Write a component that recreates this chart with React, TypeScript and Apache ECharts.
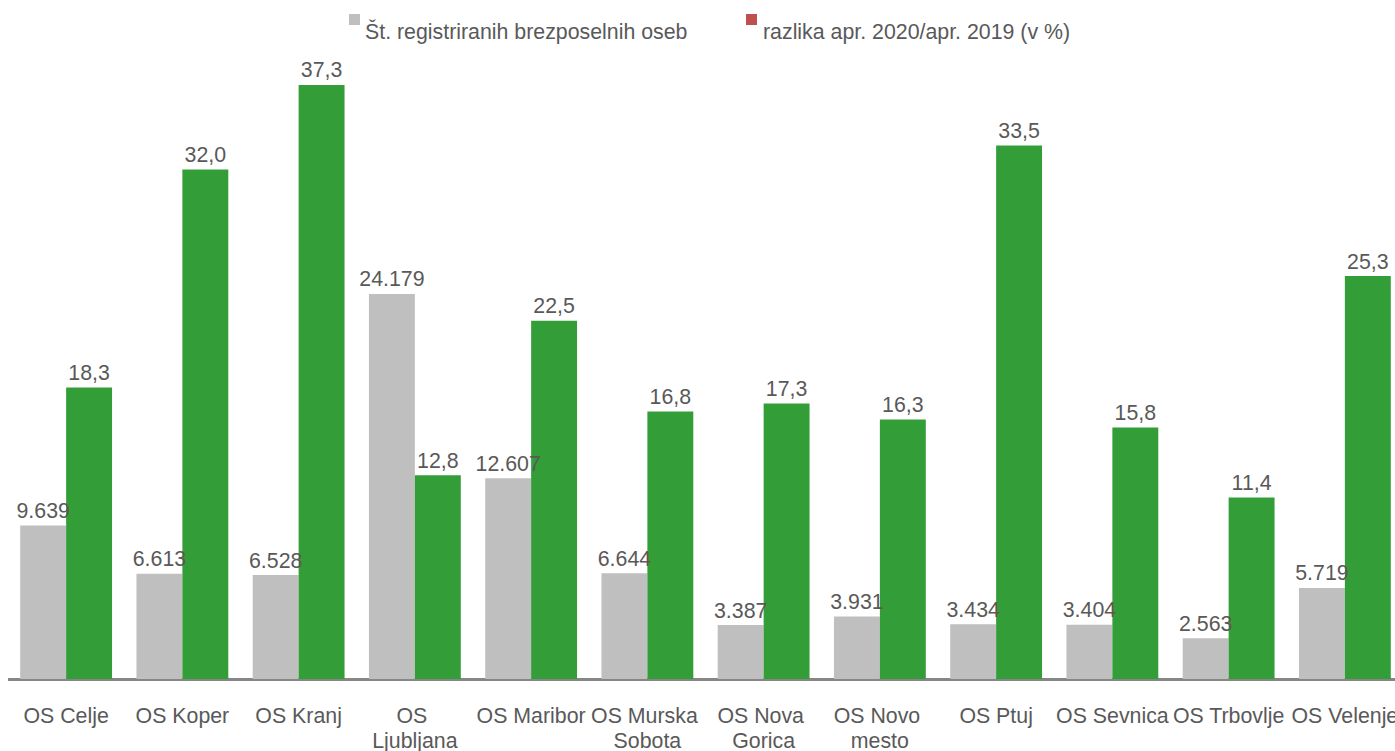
import React, { useEffect, useRef } from "react";
import * as echarts from "echarts";

const categories = [
  "OS Celje",
  "OS Koper",
  "OS Kranj",
  "OS Ljubljana",
  "OS Maribor",
  "OS Murska Sobota",
  "OS Nova Gorica",
  "OS Novo mesto",
  "OS Ptuj",
  "OS Sevnica",
  "OS Trbovlje",
  "OS Velenje",
];
const unemployed = [9639, 6613, 6528, 24179, 12607, 6644, 3387, 3931, 3434, 3404, 2563, 5719];
const changePct = [18.3, 32.0, 37.3, 12.8, 22.5, 16.8, 17.3, 16.3, 33.5, 15.8, 11.4, 25.3];
const seriesNames = [
  "Št. registriranih brezposelnih oseb",
  "razlika apr. 2020/apr. 2019 (v %)",
];

const FONT = "'Liberation Sans', Arial, Helvetica, sans-serif";
const FS = 21.33;
const TEXT = "#595959";
const GREY = "#BFBFBF";
const GREEN = "#339E37";
const RED = "#C0504D";

export default function App() {
  const ref = useRef<HTMLDivElement>(null);
  useEffect(() => {
    if (!ref.current) return;
    const chart = echarts.init(ref.current, undefined, { renderer: "svg" });
    const labelBase = {
      show: true,
      position: "top" as const,
      distance: 4,
      color: TEXT,
      fontSize: FS,
      fontFamily: FONT,
    };
    chart.setOption({
      animation: false,
      backgroundColor: "#ffffff",
      textStyle: { fontFamily: FONT },
      grid: {
        left: 0,
        right: 0,
        top: 42,
        bottom: 72,
        containLabel: false,
        outerBoundsMode: "none",
      },
      xAxis: {
        type: "category",
        data: categories,
        axisLine: { show: true, lineStyle: { color: "#868686", width: 3 } },
        axisTick: { show: false },
        axisLabel: {
          interval: 0,
          color: TEXT,
          fontSize: FS,
          fontFamily: FONT,
          margin: 24,
          lineHeight: 25,
          width: 114,
          overflow: "break",
          hideOverlap: false,
        },
      },
      yAxis: [
        { type: "value", min: 0, max: 40000, show: false, splitLine: { show: false } },
        { type: "value", min: 0, max: 40, show: false, splitLine: { show: false } },
      ],
      series: [
        {
          name: seriesNames[0],
          type: "bar",
          yAxisIndex: 0,
          data: unemployed,
          barGap: "0%",
          barCategoryGap: "21%",
          itemStyle: { color: GREY },
          label: {
            ...labelBase,
            formatter: (p: any) =>
              String(p.value).replace(/\B(?=(\d{3})+(?!\d))/g, "."),
          },
        },
        {
          name: seriesNames[1],
          type: "bar",
          yAxisIndex: 1,
          data: changePct,
          barGap: "0%",
          barCategoryGap: "21%",
          itemStyle: { color: GREEN },
          label: {
            ...labelBase,
            formatter: (p: any) => Number(p.value).toFixed(1).replace(".", ","),
          },
        },
      ],
      graphic: [
        { type: "rect", left: 341, top: 14, shape: { width: 11, height: 11 }, style: { fill: GREY } },
        {
          type: "text",
          x: 357,
          y: 32,
          style: { text: seriesNames[0], fill: TEXT, font: `${FS}px ${FONT}`, verticalAlign: "middle" },
        },
        { type: "rect", left: 738, top: 14, shape: { width: 11, height: 11 }, style: { fill: RED } },
        {
          type: "text",
          x: 755,
          y: 32,
          style: { text: seriesNames[1], fill: TEXT, font: `${FS}px ${FONT}`, verticalAlign: "middle" },
        },
      ],
    });
    return () => chart.dispose();
  }, []);
  return (
    <div
      style={{
        position: "absolute",
        left: 0,
        top: 0,
        width: 1395,
        height: 751,
        overflow: "hidden",
        background: "#fff",
      }}
    >
      <div
        ref={ref}
        style={{ position: "absolute", left: 8, top: 0, width: 1395, height: 751 }}
      />
    </div>
  );
}
